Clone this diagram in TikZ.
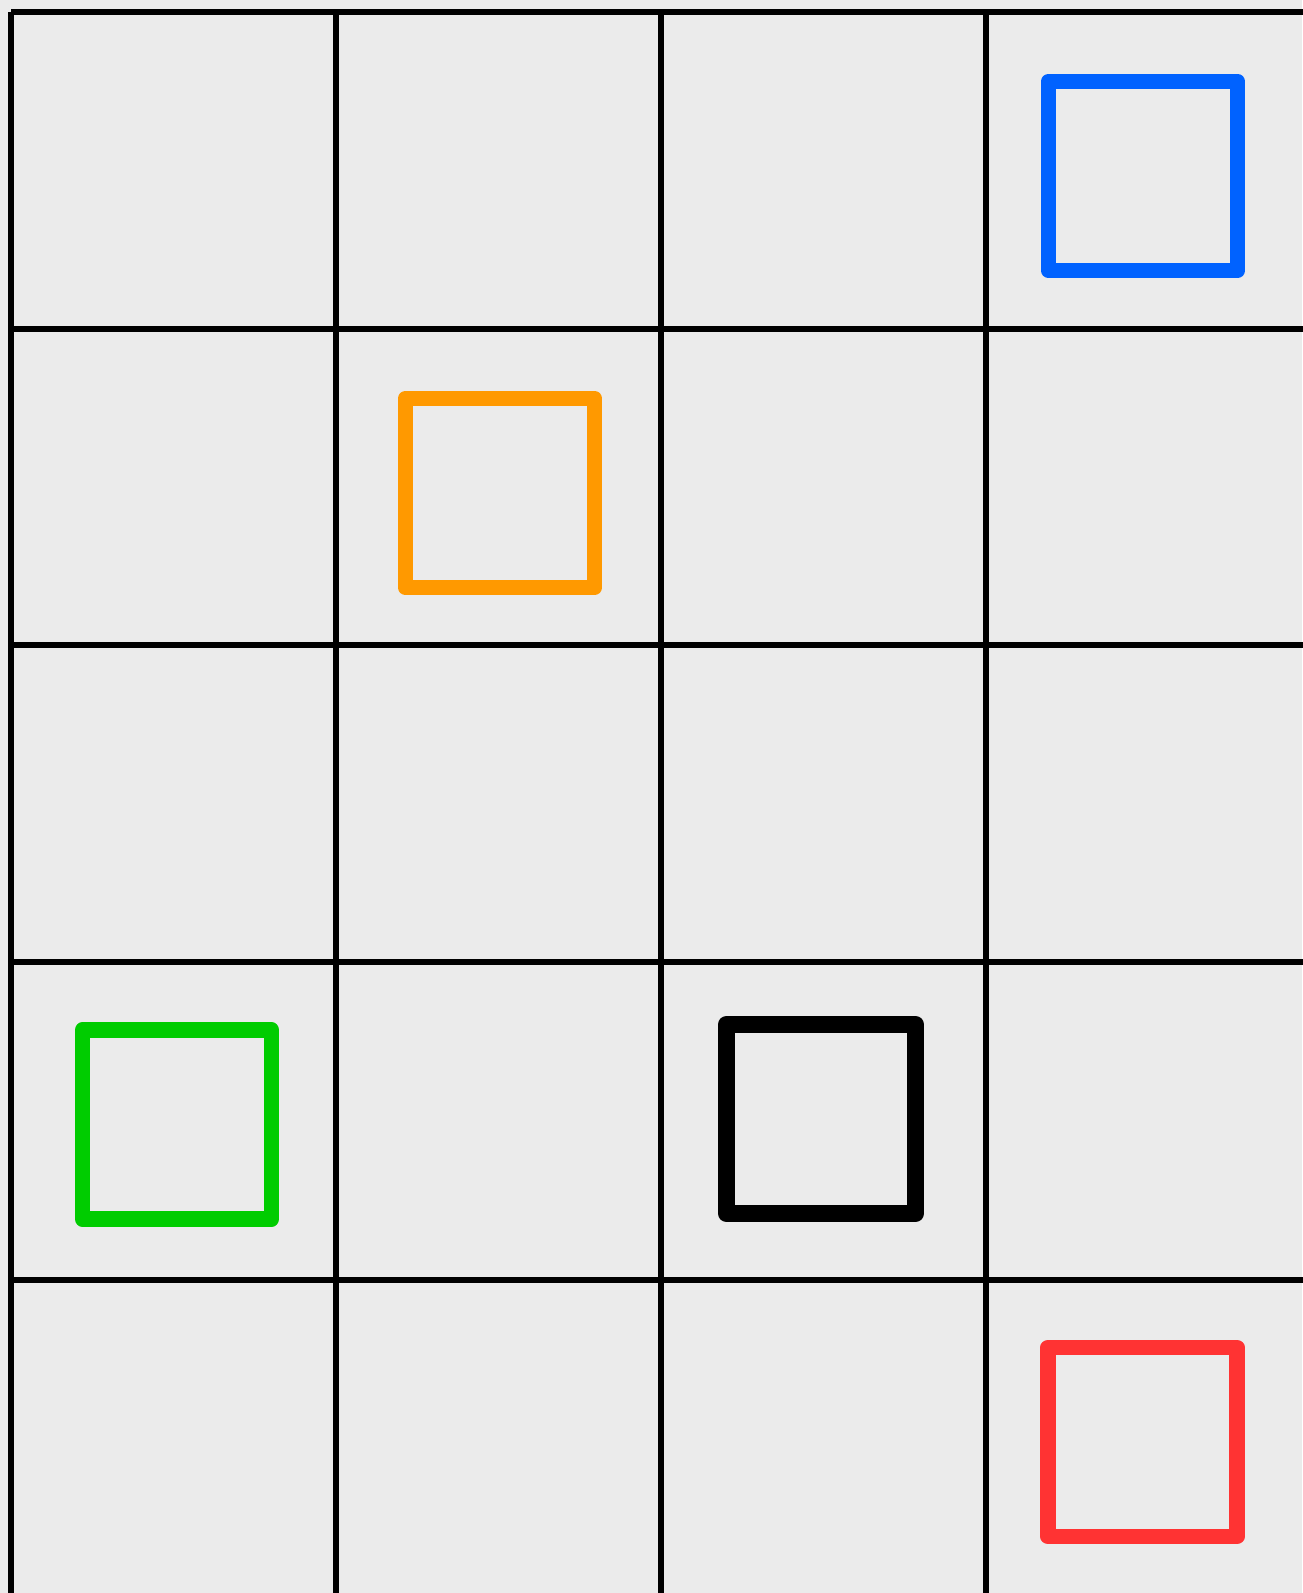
\documentclass[tikz,border=0pt]{standalone}
\begin{document}
\begin{tikzpicture}[x=1pt,y=-1pt,
  gridline/.style={line width=6.5pt,black},
  mark box/.style={draw,line width=15.5pt,line join=round,inner sep=0pt,minimum size=189pt,fill=none}]
\definecolor{bg}{RGB}{235,235,235}
\definecolor{cblue}{RGB}{0,98,255}
\definecolor{corange}{RGB}{255,153,0}
\definecolor{cgreen}{RGB}{0,204,0}
\definecolor{cred}{RGB}{255,51,51}
\fill[bg] (0,0) rectangle (1302,1593);
\useasboundingbox (0,0) rectangle (1302,1593);
% grid
\foreach \x in {11,336,661,986} {\draw[gridline] (\x,12) -- (\x,1600);}
\foreach \y in {12,329,645,962,1280} {\draw[gridline] (11,\y) -- (1310,\y);}
% squares
\node[mark box,draw=cblue] (blue) at (1143,176) {};
\node[mark box,draw=corange] (orange) at (500,493) {};
\node[mark box,draw=cgreen] (green) at (177,1124.5) {};
\node[mark box,draw=black,line width=17pt] (blk) at (821,1119) {};
\node[mark box,draw=cred] (red) at (1142.5,1442) {};
\end{tikzpicture}
\end{document}
